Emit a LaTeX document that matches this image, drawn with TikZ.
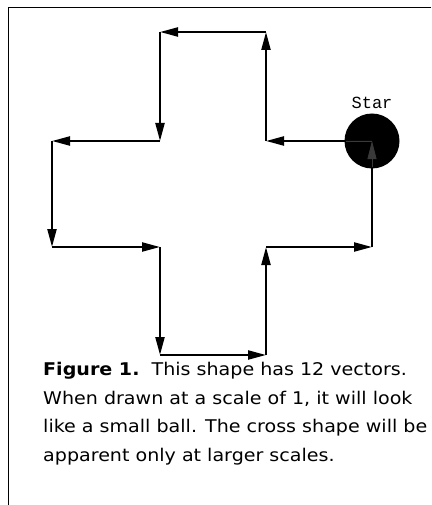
\documentclass[tikz,border=0pt]{standalone}
\usepackage{fontspec}
\setmainfont{DejaVu Sans}
\newfontfamily\starfont{Liberation Mono}
\usetikzlibrary{arrows.meta,positioning}

\begin{document}
\begin{tikzpicture}[x=1pt, y=-1pt,
  vec/.style={draw, line width=2.2pt, -{Triangle[length=18pt, width=9pt]}},
  ghost/.style={vec, draw=gray!45!black, fill=gray!45!black},
  frame/.style={draw, line width=1pt},
  star/.style={circle, fill=black, minimum size=55pt, inner sep=0pt},
  starlabel/.style={font=\starfont\fontsize{17}{17}\selectfont, inner sep=0pt},
  caption/.style={font=\fontsize{17.5}{28.5}\selectfont\addfontfeature{FakeStretch=1.09},
                  align=left, anchor=north west, inner sep=0pt},
]
  \useasboundingbox (0,0) rectangle (431,505);

  % Frame (top and left rules only)
  \draw[frame] (431,8) -- (8,8) -- (8,505);

  % Star at the start of the path
  \node[star] (star) at (372,141) {};
  \node[starlabel, above=4pt of star] (starname) {Star};

  % Corners of the cross
  \coordinate (p1) at (266,141);
  \coordinate (p2) at (266,32);
  \coordinate (p3) at (160,32);
  \coordinate (p4) at (160,141);
  \coordinate (p5) at (52,141);
  \coordinate (p6) at (52,247);
  \coordinate (p7) at (160,247);
  \coordinate (p8) at (160,355);
  \coordinate (p9) at (266,355);
  \coordinate (p10) at (266,247);
  \coordinate (p11) at (372,247);

  % The 12 vectors
  \foreach \a/\b in {star.center/p1, p1/p2, p2/p3, p3/p4, p4/p5, p5/p6,
                     p6/p7, p7/p8, p8/p9, p9/p10, p10/p11, p11/star.center}
    \draw[vec] (\a) -- (\b);

  % Faint trace of the vectors inside the star
  \begin{scope}
    \clip (star.center) circle (26pt);
    \draw[ghost, line width=0.8pt] (star.center) -- (p1);
    \draw[ghost, line width=0.8pt] (p11) -- (star.center);
  \end{scope}

  % Caption
  \node[caption] (cap) at (43,362)
    {\textbf{Figure 1.}\ \ This shape has 12 vectors.\\
     When drawn at a scale of 1, it will look\\
     like a small ball. The cross shape will be\\
     apparent only at larger scales.};
\end{tikzpicture}
\end{document}
